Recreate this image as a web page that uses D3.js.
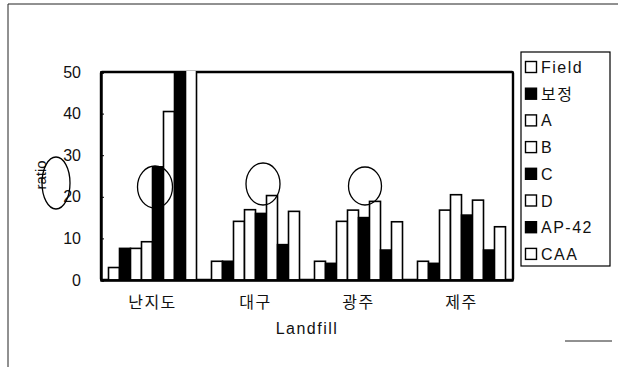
<!DOCTYPE html>
<html><head><meta charset="utf-8">
<script src="https://cdn.jsdelivr.net/npm/d3@7"></script>
<style>
body{margin:0;background:#fff;}
svg{display:block;}
text{font-family:"Liberation Sans",Arial,sans-serif;fill:#111;}
.kr{font-family:"Noto Sans CJK KR","Liberation Sans",sans-serif;}
</style></head>
<body><svg id="c" width="618" height="367"></svg>
<script>
const categories = ["난지도", "대구", "광주", "제주"];
const seriesNames = ["Field", "보정", "A", "B", "C", "D", "AP-42", "CAA"];
const seriesFill  = ["white", "black", "white", "white", "black", "white", "black", "white"];
const fieldVals = [3.0, 4.5, 4.5, 4.5];
const bojeongVals = [7.6, 4.5, 4.0, 4.0];
const aVals = [7.6, 14.1, 14.1, 16.8];
const bVals = [9.2, 16.9, 16.8, 20.5];
const cVals = [27.2, 16.0, 15.0, 15.6];
const dVals = [40.5, 20.3, 18.9, 19.2];
const ap42Vals = [52, 8.5, 7.2, 7.2];
const caaVals = [55, 16.5, 14.0, 12.8];
const allVals = [fieldVals, bojeongVals, aVals, bVals, cVals, dVals, ap42Vals, caaVals];
const yTicks = [0, 10, 20, 30, 40, 50];

const svg = d3.select("#c");
const L = 101, R = 513, T = 72, B = 280;

// outer frame fragments
svg.append("line").attr("x1",8).attr("y1",4).attr("x2",618).attr("y2",4).attr("stroke","#222").attr("stroke-width",1);
svg.append("line").attr("x1",8).attr("y1",4).attr("x2",8).attr("y2",367).attr("stroke","#222").attr("stroke-width",1);
svg.append("line").attr("x1",565).attr("y1",341).attr("x2",612).attr("y2",341).attr("stroke","#222").attr("stroke-width",1);

const x = d3.scaleBand().domain(categories).range([L, R]).paddingInner(15/103).paddingOuter(7.5/103);
const xs = d3.scaleBand().domain(seriesNames).range([0, x.bandwidth()]);
const y = d3.scaleLinear().domain([0, 50]).range([B, T]);

// plot border
svg.append("rect").attr("x", L).attr("y", T).attr("width", R - L).attr("height", B - T)
  .attr("fill", "none").attr("stroke", "#000").attr("stroke-width", 2.4).attr("rx", 1);

svg.append("clipPath").attr("id","pc").append("rect").attr("x", L-2).attr("y", T-1).attr("width", R-L+4).attr("height", B-T+2);

const g = svg.append("g").attr("clip-path","url(#pc)");
seriesNames.forEach((s, si) => {
  g.selectAll(null).data(categories).enter().append("rect")
    .attr("x", c => x(c) + xs(s))
    .attr("y", (c, i) => y(allVals[si][i]))
    .attr("width", xs.bandwidth())
    .attr("height", (c, i) => y(0) - y(allVals[si][i]))
    .attr("fill", seriesFill[si])
    .attr("stroke", "#000").attr("stroke-width", 1.6);
});

// y axis
const ya = svg.append("g").attr("transform", `translate(${L},0)`)
  .call(d3.axisLeft(y).tickValues(yTicks).tickSize(-3).tickPadding(20));
ya.select(".domain").attr("stroke","#000").attr("stroke-width",2.4);
ya.selectAll("text").style("font-size","16px").attr("fill","#111");

// x axis
const xa = svg.append("g").attr("transform", `translate(0,${B})`)
  .call(d3.axisBottom(x).tickSize(0).tickPadding(17));
xa.select(".domain").attr("stroke","#000").attr("stroke-width",2.4);
xa.selectAll("text").attr("class","kr").style("font-size","16px").style("letter-spacing","1.5px").attr("fill","#111");

// axis titles
svg.append("text").attr("x", 307).attr("y", 334).attr("text-anchor","middle")
  .style("font-size","16px").style("letter-spacing","1.5px").text("Landfill");
svg.append("text").attr("transform","translate(46,175) rotate(-90)").attr("text-anchor","middle")
  .style("font-size","15px").text("ratio");

// annotation ellipses
const ells = [[56,183,14,26],[155,187,17.5,21],[263,184,17,21],[365,186,16.5,19]];
svg.selectAll(null).data(ells).enter().append("ellipse")
  .attr("cx", d=>d[0]).attr("cy", d=>d[1]).attr("rx", d=>d[2]).attr("ry", d=>d[3])
  .attr("fill","none").attr("stroke","#000").attr("stroke-width",1.3);

// legend
svg.append("rect").attr("x",521).attr("y",52).attr("width",89).attr("height",214)
  .attr("fill","white").attr("stroke","#000").attr("stroke-width",1.2);
const lg = svg.selectAll(null).data(seriesNames).enter().append("g")
  .attr("transform", (d,i)=>`translate(525,${67 + i*26.7})`);
lg.append("rect").attr("x",0.5).attr("y",-5.5).attr("width",11).attr("height",11)
  .attr("fill",(d,i)=>seriesFill[i]).attr("stroke","#000").attr("stroke-width",1.4);
lg.append("text").attr("x",16).attr("y",6).attr("class",d=>/[가-힣]/.test(d)?"kr":null)
  .style("font-size","16px").style("letter-spacing","1.5px").text(d=>d);
</script></body></html>
